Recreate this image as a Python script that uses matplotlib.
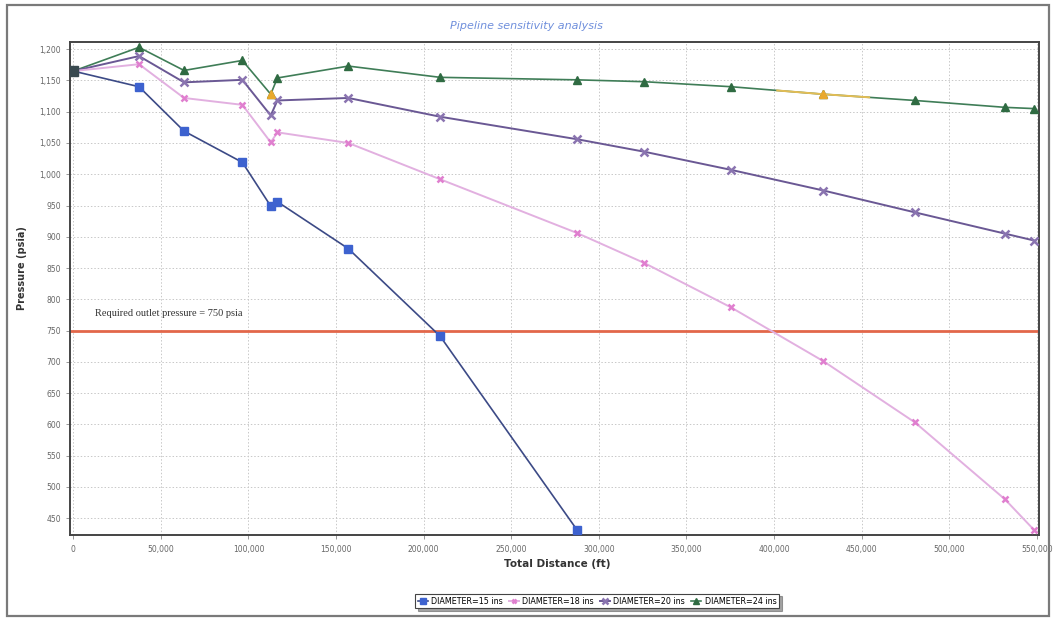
import matplotlib
matplotlib.use("Agg")
import matplotlib.pyplot as plt
from matplotlib.ticker import FuncFormatter, MultipleLocator
from matplotlib.patches import Rectangle

# ---- data ----
distance_ft = [0, 37500, 63200, 96500, 112700, 116500, 157000, 209400,
               287600, 326000, 375500, 428200, 480500, 531900, 548500]
p_15in = [1165, 1140, 1069, 1019, 949, 956, 881, 741, 431]
p_18in = [1165, 1176, 1122, 1111, 1051, 1067, 1050, 992, 906, 858, 787, 701, 603, 480, 431]
p_20in = [1165, 1189, 1147, 1151, 1094, 1118, 1122, 1092, 1056, 1036, 1007, 974, 939, 905, 894]
p_24in = [1165, 1203, 1166, 1182, 1128, 1154, 1173, 1155, 1151, 1148, 1140, 1128, 1118, 1107, 1105]
orange_idx_24 = [4, 11]
required_pressure = 750
series_labels = ["DIAMETER=15 ins", "DIAMETER=18 ins", "DIAMETER=20 ins", "DIAMETER=24 ins"]
title = "Pipeline sensitivity analysis"
xlabel = "Total Distance (ft)"
ylabel = "Pressure (psia)"
ref_label = "Required outlet pressure = 750 psia"

W, H = 1055, 620
fig = plt.figure(figsize=(W / 100, H / 100), dpi=100)
fig.patch.set_facecolor("white")

# outer frame
fig.patches.append(Rectangle((7 / W, 1 - 616 / H), (1049 - 7) / W, (616 - 5) / H,
                             transform=fig.transFigure, fill=False,
                             edgecolor="#7a7a7a", linewidth=1.6))

l, r, t, b = 70, 1039, 41.7, 535
ax = fig.add_axes([l / W, 1 - b / H, (r - l) / W, (b - t) / H])

ax.set_xlim(-1900, 551300)
ax.set_ylim(423, 1212)

ax.grid(True, which="major", color="#c8c8c8", linestyle=(0, (1.5, 2)), linewidth=0.7)
ax.set_axisbelow(True)

ax.axhline(required_pressure, color="#e2674a", linewidth=2.0, zorder=2)

# 24 in (green)
ax.plot(distance_ft[:len(p_24in)], p_24in, color="#3f7d57", linewidth=1.2,
        marker="^", markersize=6, markerfacecolor="#2f6b42", markeredgecolor="#2f6b42",
        zorder=3, label=series_labels[3])
for i in orange_idx_24:
    x0 = distance_ft[i]; y0 = p_24in[i]
    if i == 11:
        xa = (distance_ft[i - 1] + x0) / 2; ya = (p_24in[i - 1] + y0) / 2
        xb = (distance_ft[i + 1] + x0) / 2; yb = (p_24in[i + 1] + y0) / 2
        ax.plot([xa, x0, xb], [ya, y0, yb], color="#e3bd55", linewidth=1.4, zorder=4)
    ax.plot([x0], [y0], marker="^", markersize=6, color="#e9a92c", linestyle="none", zorder=5)

# 20 in (purple)
ax.plot(distance_ft[:len(p_20in)], p_20in, color="#6a5894", linewidth=1.4,
        marker="x", markersize=6, markeredgewidth=1.8, markeredgecolor="#8a74b0",
        zorder=3, label=series_labels[2])

# 18 in (pink)
ax.plot(distance_ft[:len(p_18in)], p_18in, color="#e2b0e0", linewidth=1.4,
        marker="x", markersize=5, markeredgewidth=1.8, markeredgecolor="#e07fcf",
        zorder=3, label=series_labels[1])

# 15 in (blue)
ax.plot(distance_ft[:len(p_15in)], p_15in, color="#3c4a86", linewidth=1.2,
        marker="s", markersize=5.5, markerfacecolor="#3d62cf", markeredgecolor="#3d62cf",
        zorder=4, label=series_labels[0])

# start marker
ax.plot([distance_ft[0]], [p_15in[0]], marker="s", markersize=7, color="#3a4a50",
        linestyle="none", zorder=6)

ax.text(12400, 778, ref_label, family="Liberation Serif", fontsize=7.5,
        color="#333333", va="center", ha="left", zorder=5)

ax.xaxis.set_major_locator(MultipleLocator(50000))
ax.yaxis.set_major_locator(MultipleLocator(50))
fmt = FuncFormatter(lambda v, p: f"{int(round(v)):,}")
ax.xaxis.set_major_formatter(fmt)
ax.yaxis.set_major_formatter(fmt)
ax.tick_params(axis="both", labelsize=5.5, labelcolor="#666666", color="#888888",
               length=3, width=0.6)
ax.tick_params(axis="x", pad=4)

for s in ax.spines.values():
    s.set_color("#444444")
    s.set_linewidth(1.4)

fig.text(22 / W, 1 - 268 / H, ylabel, rotation=90, fontsize=7, fontweight="bold",
         color="#333333", ha="center", va="center")
fig.text(557 / W, 1 - 564 / H, xlabel, fontsize=7.5, fontweight="bold",
         color="#333333", ha="center", va="center")
fig.text(526 / W, 1 - 26 / H, title, fontsize=8, style="italic", color="#6f8fdc",
         ha="center", va="center")

handles, labels = ax.get_legend_handles_labels()
order = [labels.index(s) for s in series_labels]
leg = fig.legend([handles[i] for i in order], [labels[i] for i in order],
                 loc="center", bbox_to_anchor=(597 / W, 1 - 601 / H), ncol=4,
                 fontsize=5.8, frameon=True, fancybox=False, shadow=True,
                 handlelength=1.3, handletextpad=0.4, columnspacing=0.7,
                 borderpad=0.35, markerscale=0.7)
leg.get_frame().set_edgecolor("#444444")
leg.get_frame().set_linewidth(0.8)

fig.savefig("out.png", dpi=100, facecolor="white")
